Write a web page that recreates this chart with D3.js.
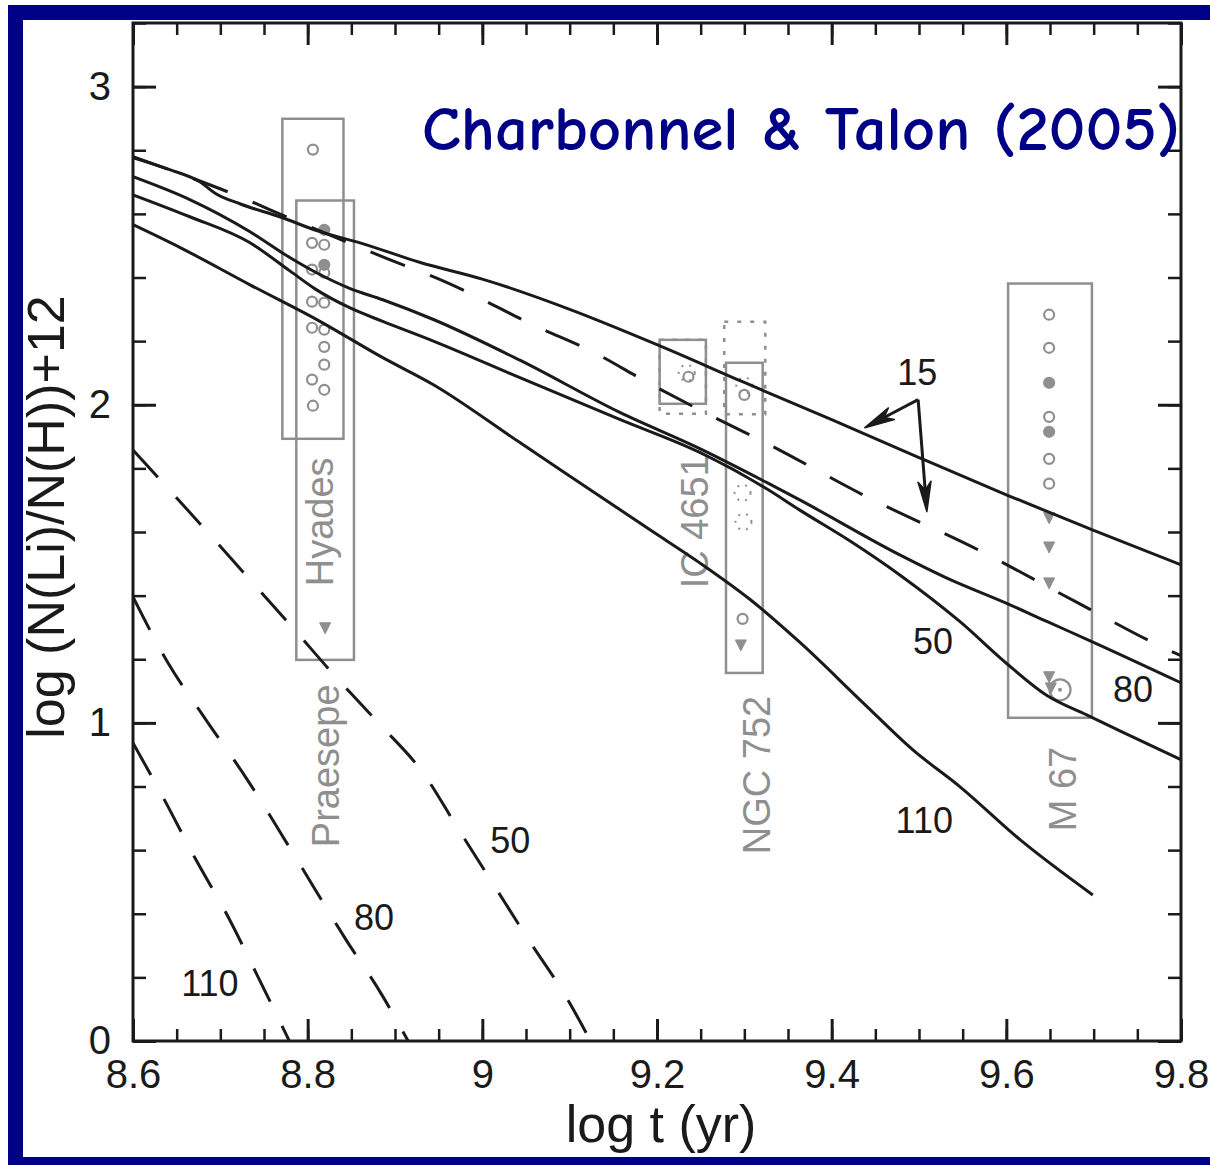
<!DOCTYPE html>
<html>
<head>
<meta charset="utf-8">
<script src="https://cdn.jsdelivr.net/npm/d3@7"></script>
<style>
  html, body { margin: 0; padding: 0; background: #fff; }
  svg { display: block; }
</style>
</head>
<body>
<svg id="chart" width="1210" height="1165"></svg>
<script>
// ---- Axis ticks ----
const ageTicks = [8.6, 8.8, 9, 9.2, 9.4, 9.6, 9.8];
const ageMinorTicks = d3.range(0, 25).map(i => +(8.6 + i * 0.05).toFixed(2));
const liTicks = [0, 1, 2, 3];
const liMinorTicks = d3.range(0, 17).map(i => +(i * 0.2).toFixed(1));

// ---- Models with internal gravity waves (solid), [log t, log N(Li)/N(H)+12] ----
const igw15 = [[8.600,2.777],[8.642,2.739],[8.677,2.700],[8.694,2.665],[8.723,2.631],[8.768,2.591],[8.814,2.544],[8.860,2.509],[8.929,2.447],[9.000,2.395],[9.100,2.300],[9.200,2.189],[9.300,2.070],[9.400,1.953],[9.500,1.834],[9.600,1.717],[9.700,1.605],[9.800,1.497]];
const igw80 = [[8.600,2.717],[8.665,2.645],[8.734,2.544],[8.780,2.462],[8.808,2.418],[8.848,2.366],[8.886,2.330],[8.944,2.268],[9.043,2.140],[9.158,1.975],[9.249,1.862],[9.326,1.755],[9.364,1.700],[9.478,1.528],[9.532,1.455],[9.601,1.375],[9.647,1.318],[9.696,1.258],[9.800,1.126]];
const igw50 = [[8.600,2.660],[8.665,2.591],[8.734,2.509],[8.780,2.420],[8.808,2.365],[8.848,2.305],[8.886,2.262],[8.944,2.200],[9.043,2.085],[9.158,1.953],[9.249,1.850],[9.326,1.735],[9.364,1.668],[9.422,1.570],[9.478,1.465],[9.547,1.318],[9.601,1.185],[9.647,1.085],[9.692,1.025],[9.730,0.975],[9.800,0.884]];
const igw110 = [[8.600,2.566],[8.654,2.494],[8.734,2.377],[8.811,2.267],[8.886,2.148],[8.944,2.063],[9.043,1.881],[9.192,1.607],[9.249,1.503],[9.307,1.387],[9.364,1.252],[9.436,1.063],[9.493,0.915],[9.547,0.799],[9.616,0.632],[9.699,0.459]];

// ---- Models with rotation only (dashed) ----
const rot15 = [[8.600,2.780],[8.672,2.708],[8.717,2.660],[8.783,2.582],[8.886,2.465],[8.957,2.387],[9.063,2.245],[9.126,2.167],[9.190,2.069],[9.253,1.978],[9.329,1.874],[9.440,1.711],[9.572,1.538],[9.682,1.377],[9.778,1.239],[9.800,1.211]];
const rot50 = [[8.600,1.858],[8.680,1.616],[8.731,1.459],[8.782,1.302],[8.830,1.151],[8.881,1.000],[8.932,0.843],[8.973,0.664],[9.013,0.491],[9.053,0.318],[9.096,0.138],[9.124,0.000]];
const rot80 = [[8.600,1.396],[8.640,1.189],[8.682,1.016],[8.731,0.821],[8.788,0.569],[8.844,0.318],[8.885,0.145],[8.915,0.000]];
const rot110 = [[8.600,0.937],[8.636,0.758],[8.671,0.575],[8.709,0.390],[8.742,0.208],[8.779,0.000]];

// ---- Open clusters: box extents [t0, t1, Li top, Li bottom] ----
const clusterNames = ["Hyades", "Praesepe", "IC 4651", "NGC 752", "M 67"];
const clusterBoxes = [
  [8.771, 8.841, 2.899, 1.893],
  [8.787, 8.853, 2.642, 1.198],
  [9.203, 9.256, 2.204, 2.003],
  [9.279, 9.321, 2.132, 1.157],
  [9.602, 9.698, 2.381, 1.016]
];
const clusterLabelPos = [[8.829,1.632],[8.836,0.865],[9.258,1.632],[9.329,0.836],[9.680,0.792]];
const dottedBoxes = [[9.203, 9.256, 2.204, 1.972],[9.277, 9.324, 2.261, 1.970]];

// ---- Observed stars: [log t, Li, filled] ----
const hyadesStars = [[8.806,2.802,0],[8.805,2.509,0],[8.805,2.425,0],[8.805,2.324,0],[8.805,2.242,0],[8.805,2.079,0],[8.806,1.997,0]];
const praesepeStars = [[8.819,2.550,1],[8.819,2.503,0],[8.819,2.440,1],[8.819,2.415,0],[8.819,2.321,0],[8.819,2.236,0],[8.819,2.182,0],[8.819,2.126,0],[8.819,2.047,0]];
const praesepeLimits = [[8.820,1.299]];
const ic4651Stars = [[9.236,2.088,0]];
const ngc752Stars = [[9.300,2.031,0],[9.298,1.327,0]];
const ngc752Limits = [[9.296,1.245]];
const m67Stars = [[9.649,2.283,0],[9.649,2.179,0],[9.649,2.069,1],[9.649,1.962,0],[9.649,1.915,1],[9.649,1.830,0],[9.649,1.752,0]];
const m67Limits = [[9.649,1.645],[9.649,1.553],[9.649,1.440],[9.649,1.145],[9.651,1.110]];
const dottedStars = [[9.234,2.10],[9.300,2.06],[9.298,1.723],[9.299,1.632]];
const sunPoint = [9.6615, 1.104];

// ---- Annotations ----
const modelLabels = [["15",9.498,2.104],["50",9.516,1.258],["80",9.745,1.107],["110",9.506,0.695],["50",9.032,0.632],["80",8.876,0.390],["110",8.688,0.182]];
const arrowApex = [9.499, 2.016];
const arrowTips = [[9.438, 1.928], [9.509, 1.664]];

// ---- Layout ----
const W = 1210, H = 1165;
const margin = {top: 23, right: 29, bottom: 124, left: 133};
const innerW = W - margin.left - margin.right;
const innerH = H - margin.top - margin.bottom;
const ink = "#1a1a1a", grey = "#8f8f8f", navy = "#000086";
const numFont = "'Liberation Sans', Arial, Helvetica, sans-serif";

const svg = d3.select("#chart");
svg.append("rect").attr("width", W).attr("height", H).attr("fill", "#fff");

// frame bands
svg.append("rect").attr("x", 8).attr("y", 5).attr("width", W - 8).attr("height", 15).attr("fill", navy);
svg.append("rect").attr("x", 8).attr("y", 5).attr("width", 15).attr("height", H - 5).attr("fill", navy);
svg.append("rect").attr("x", 8).attr("y", 1157).attr("width", W - 8).attr("height", 8).attr("fill", navy);

const x = d3.scaleLinear().domain([8.6, 9.8]).range([0, innerW]);
const y = d3.scaleLinear().domain([0, 3.2]).range([innerH, 0]);

const g = svg.append("g").attr("transform", `translate(${margin.left},${margin.top})`);

svg.append("defs").append("clipPath").attr("id", "plotClip")
  .append("rect").attr("width", innerW).attr("height", innerH);

// ---- Cluster boxes ----
const boxG = g.append("g");
boxG.selectAll("rect.cl").data(clusterBoxes).join("rect")
  .attr("class", "cl")
  .attr("x", d => x(d[0])).attr("y", d => y(d[2]))
  .attr("width", d => x(d[1]) - x(d[0])).attr("height", d => y(d[3]) - y(d[2]))
  .attr("fill", "none").attr("stroke", grey).attr("stroke-width", 2.5);
boxG.selectAll("rect.dt").data(dottedBoxes).join("rect")
  .attr("class", "dt")
  .attr("x", d => x(d[0])).attr("y", d => y(d[2]))
  .attr("width", d => x(d[1]) - x(d[0])).attr("height", d => y(d[3]) - y(d[2]))
  .attr("fill", "none").attr("stroke", grey).attr("stroke-width", 2.5)
  .attr("stroke-dasharray", "4,9");

boxG.selectAll("text.cl").data(clusterNames).join("text")
  .attr("class", "cl")
  .attr("transform", (d, i) => `translate(${x(clusterLabelPos[i][0])},${y(clusterLabelPos[i][1])}) rotate(-90)`)
  .attr("text-anchor", "middle")
  .attr("font-family", numFont).attr("font-size", 38).attr("fill", grey)
  .text(d => d);

// ---- Stars ----
const starG = g.append("g");
const allStars = [].concat(hyadesStars, praesepeStars, ic4651Stars, ngc752Stars, m67Stars);
starG.selectAll("circle.star").data(allStars).join("circle")
  .attr("class", "star")
  .attr("cx", d => x(d[0])).attr("cy", d => y(d[1])).attr("r", 5)
  .attr("fill", d => d[2] ? grey : "none")
  .attr("stroke", grey).attr("stroke-width", 2.2);
starG.selectAll("circle.dot").data(dottedStars).join("circle")
  .attr("class", "dot")
  .attr("cx", d => x(d[0])).attr("cy", d => y(d[1])).attr("r", 8)
  .attr("fill", "none").attr("stroke", grey).attr("stroke-width", 2)
  .attr("stroke-dasharray", "2,6");
const allLimits = [].concat(praesepeLimits, ngc752Limits, m67Limits);
starG.selectAll("path.lim").data(allLimits).join("path")
  .attr("class", "lim")
  .attr("transform", d => `translate(${x(d[0])},${y(d[1])})`)
  .attr("d", "M-5.5,-5 L5.5,-5 L0,6 Z")
  .attr("fill", grey).attr("stroke", grey).attr("stroke-width", 1);
// the Sun
starG.append("circle").attr("cx", x(sunPoint[0])).attr("cy", y(sunPoint[1])).attr("r", 10.5)
  .attr("fill", "none").attr("stroke", grey).attr("stroke-width", 2.2);
starG.append("circle").attr("cx", x(sunPoint[0])).attr("cy", y(sunPoint[1])).attr("r", 2)
  .attr("fill", grey);

// ---- Model curves ----
const line = d3.line().x(d => x(d[0])).y(d => y(d[1])).curve(d3.curveMonotoneX);
const curveG = g.append("g").attr("clip-path", "url(#plotClip)");
const solidCurves = [igw15, igw80, igw50, igw110];
const dashedCurves = [rot15, rot50, rot80, rot110];
curveG.selectAll("path.solid").data(solidCurves).join("path")
  .attr("class", "solid").attr("d", line)
  .attr("fill", "none").attr("stroke", ink).attr("stroke-width", 3)
  .attr("stroke-linejoin", "round");
curveG.selectAll("path.dashed").data(dashedCurves).join("path")
  .attr("class", "dashed").attr("d", line)
  .attr("fill", "none").attr("stroke", ink).attr("stroke-width", 3)
  .attr("stroke-dasharray", "37,27");

// ---- Model labels ----
g.selectAll("text.model").data(modelLabels).join("text")
  .attr("class", "model")
  .attr("x", d => x(d[1])).attr("y", d => y(d[2])).attr("dy", "0.36em")
  .attr("text-anchor", "middle")
  .attr("font-family", numFont).attr("font-size", 36).attr("fill", ink)
  .text(d => d[0]);

// ---- Arrows from the "15" label ----
const ax = x(arrowApex[0]), ay = y(arrowApex[1]);
arrowTips.forEach(t => {
  const tx = x(t[0]), ty = y(t[1]);
  const len = Math.hypot(tx - ax, ty - ay);
  const ux = (tx - ax) / len, uy = (ty - ay) / len;
  const nx = -uy, ny = ux;
  const L = 30, Wd = 6.5;
  g.append("line").attr("x1", ax).attr("y1", ay)
    .attr("x2", tx - ux * L * 0.6).attr("y2", ty - uy * L * 0.6)
    .attr("stroke", ink).attr("stroke-width", 3);
  const bx = tx - ux * L, by = ty - uy * L;
  const mx = tx - ux * L * 0.72, my = ty - uy * L * 0.72;
  g.append("path")
    .attr("d", `M${tx},${ty} L${bx + nx * Wd},${by + ny * Wd} L${mx},${my} L${bx - nx * Wd},${by - ny * Wd} Z`)
    .attr("fill", ink).attr("stroke", ink).attr("stroke-width", 1.5).attr("stroke-linejoin", "round");
});

// ---- Axes ----
function styleAxis(sel, major) {
  sel.select(".domain").remove();
  sel.selectAll(".tick line").attr("stroke", ink).attr("stroke-width", major ? 3 : 2.5);
  sel.selectAll(".tick text").attr("font-family", numFont).attr("font-size", 40).attr("fill", ink);
}
g.append("g").attr("transform", `translate(0,${innerH})`)
  .call(d3.axisBottom(x).tickValues(ageMinorTicks).tickSizeInner(-12).tickSizeOuter(0).tickFormat(""))
  .call(s => styleAxis(s, false));
g.append("g").attr("transform", `translate(0,${innerH})`)
  .call(d3.axisBottom(x).tickValues(ageTicks).tickSizeInner(-22).tickSizeOuter(0).tickPadding(19).tickFormat(d3.format("")))
  .call(s => styleAxis(s, true));
g.append("g")
  .call(d3.axisTop(x).tickValues(ageMinorTicks).tickSizeInner(-12).tickSizeOuter(0).tickFormat(""))
  .call(s => styleAxis(s, false));
g.append("g")
  .call(d3.axisTop(x).tickValues(ageTicks).tickSizeInner(-22).tickSizeOuter(0).tickFormat(""))
  .call(s => styleAxis(s, true));
g.append("g")
  .call(d3.axisLeft(y).tickValues(liMinorTicks).tickSizeInner(-13).tickSizeOuter(0).tickFormat(""))
  .call(s => styleAxis(s, false));
g.append("g")
  .call(d3.axisLeft(y).tickValues(liTicks).tickSizeInner(-23).tickSizeOuter(0).tickPadding(22).tickFormat(d3.format("d")))
  .call(s => styleAxis(s, true));
g.append("g").attr("transform", `translate(${innerW},0)`)
  .call(d3.axisRight(y).tickValues(liMinorTicks).tickSizeInner(-13).tickSizeOuter(0).tickFormat(""))
  .call(s => styleAxis(s, false));
g.append("g").attr("transform", `translate(${innerW},0)`)
  .call(d3.axisRight(y).tickValues(liTicks).tickSizeInner(-23).tickSizeOuter(0).tickFormat(""))
  .call(s => styleAxis(s, true));

// plot frame
g.append("rect").attr("width", innerW).attr("height", innerH)
  .attr("fill", "none").attr("stroke", ink).attr("stroke-width", 3);

// ---- Axis titles ----
svg.append("text")
  .attr("x", 661).attr("y", 1142)
  .attr("text-anchor", "middle")
  .attr("font-family", numFont).attr("font-size", 52).attr("fill", ink)
  .text("log t (yr)");
svg.append("text")
  .attr("transform", `translate(64,517) rotate(-90)`)
  .attr("text-anchor", "middle")
  .attr("font-family", numFont).attr("font-size", 52).attr("fill", ink)
  .text("log (N(Li)/N(H))+12");

// ---- Title ----
svg.append("text")
  .attr("x", 422).attr("y", 150)
  .attr("font-family", "'Comic Sans MS', 'Comic Neue', Lato, 'DejaVu Sans', sans-serif")
  .attr("font-weight", "bold").attr("font-size", 63).attr("fill", navy)
  .attr("textLength", 758).attr("lengthAdjust", "spacingAndGlyphs")
  .text("Charbonnel & Talon (2005)");
</script>
</body>
</html>
